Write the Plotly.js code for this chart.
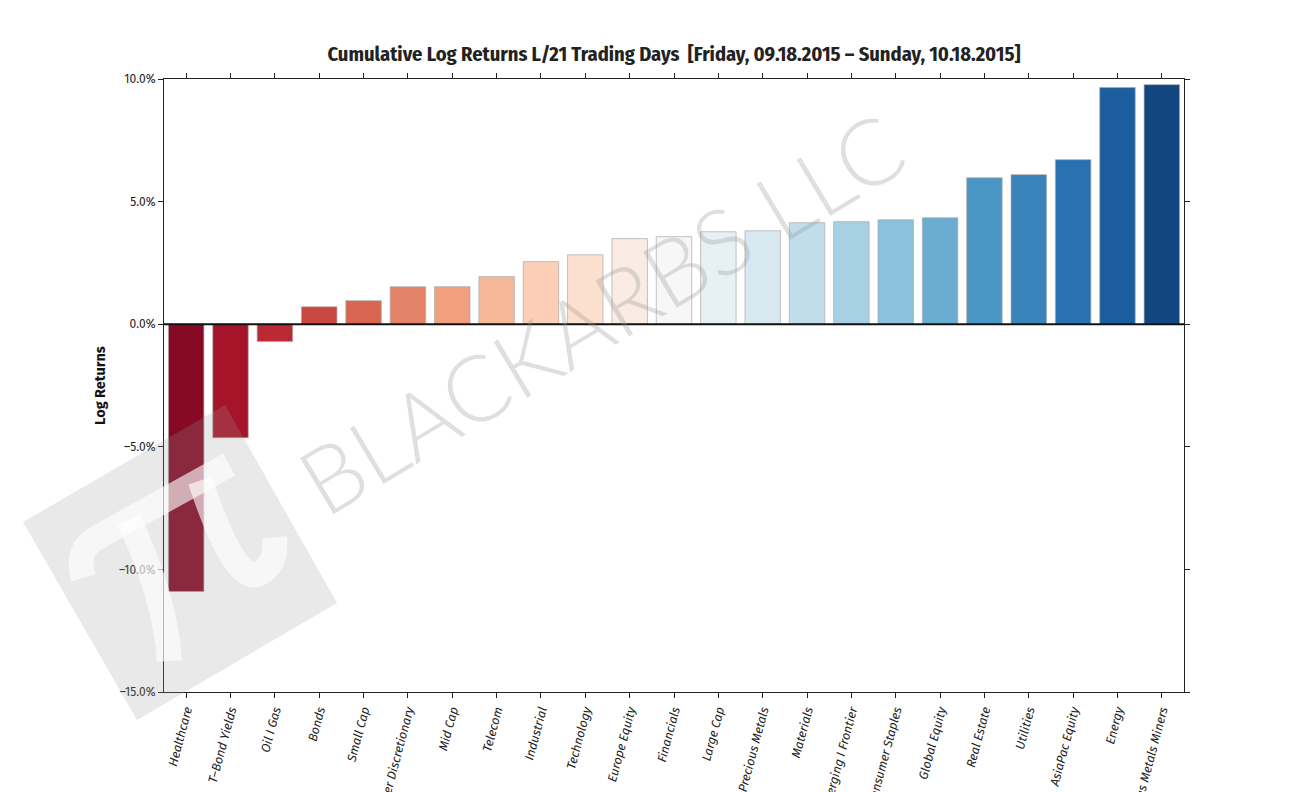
<!DOCTYPE html>
<html>
<head>
<meta charset="utf-8">
<script src="https://cdn.plot.ly/plotly-3.0.1.min.js"></script>
<style>html,body{margin:0;padding:0;background:#fff;}#chart{width:1314px;height:792px;}</style>
</head>
<body>
<div id="chart"></div>
<script>
const categories = ["Healthcare","T\u2013Bond Yields","Oil I Gas","Bonds","Small Cap","Consumer Discretionary","Mid Cap","Telecom","Industrial","Technology","Europe Equity","Financials","Large Cap","Precious Metals","Materials","Emerging I Frontier","Consumer Staples","Global Equity","Real Estate","Utilities","AsiaPac Equity","Energy","Precious Metals Miners"];
const logReturns = [-10.9,-4.63,-0.71,0.71,0.96,1.53,1.53,1.94,2.55,2.83,3.49,3.57,3.77,3.81,4.14,4.18,4.26,4.34,5.97,6.10,6.71,9.65,9.77];
const yTicks = [-15,-10,-5,0,5,10];

// RdBu colormap stops
const rdbu = ["#67001f","#b2182b","#d6604d","#f4a582","#fddbc7","#f7f7f7","#d1e5f0","#92c5de","#4393c3","#2166ac","#053061"];
function hex2rgb(h){return [parseInt(h.slice(1,3),16),parseInt(h.slice(3,5),16),parseInt(h.slice(5,7),16)];}
function cmap(t){
  const s = t*(rdbu.length-1);
  const i = Math.min(Math.floor(s), rdbu.length-2);
  const f = s-i;
  const a = hex2rgb(rdbu[i]), b = hex2rgb(rdbu[i+1]);
  const c = a.map((v,k)=>Math.round(v+(b[k]-v)*f));
  return `rgb(${c[0]},${c[1]},${c[2]})`;
}
const n = categories.length;
const colors = categories.map((_,i)=>cmap((i+1)/(n+1)));

const trace = {
  type:'bar', x:categories, y:logReturns,
  marker:{color:colors, line:{color:'rgba(170,170,170,0.7)', width:1}},
  width:0.8, hoverinfo:'x+y'
};

const tickFont = {family:'"Fira Sans","Noto Sans","Open Sans",sans-serif', size:12, color:'#222'};

// paper coordinates helpers (plot area: x 164..1184, y 79..692)
const px = v => (v-164)/1020;
const py = v => (692-v)/613;

// watermark logo: pi drawn in a local rotated frame
const LC = [156,505], LA = 29*Math.PI/180, LS = 1.1;
function lp(u,v){
  u*=LS; v*=LS;
  const x = LC[0] + u*Math.cos(LA) + v*Math.sin(LA);
  const y = LC[1] - u*Math.sin(LA) + v*Math.cos(LA);
  return px(x)+' '+py(y);
}
const piBar = `M ${lp(-90,26)} Q ${lp(-84,0)} ${lp(-62,0)} L ${lp(76,0)}`;
const piLeft = `M ${lp(-28,0)} Q ${lp(-34,80)} ${lp(-58,130)}`;
const piRight = `M ${lp(46,0)} Q ${lp(28,95)} ${lp(50,100)} Q ${lp(70,102)} ${lp(80,78)}`;
const piLine = {color:'rgba(255,255,255,0.62)', width:25};

const layout = {
  width:1314, height:792,
  margin:{l:164, r:130, t:79, b:100},
  paper_bgcolor:'#fff', plot_bgcolor:'#fff',
  showlegend:false,
  bargap:0.2,
  title:{text:'Cumulative Log Returns L/21 Trading Days  [Friday, 09.18.2015 \u2013 Sunday, 10.18.2015]',
    font:{family:'"Fira Sans Condensed","Liberation Sans Narrow","Roboto Condensed","Noto Sans",sans-serif', size:20.4, color:'#222', weight:'bold'},
    x:0.5, xref:'paper', y:1, yref:'paper', yanchor:'bottom', pad:{b:18}},
  xaxis:{type:'category', tickangle:-75, tickfont:Object.assign({style:'italic'},tickFont,{size:12.5}),
    showline:true, linecolor:'#222', linewidth:1, mirror:'ticks', ticks:'outside', ticklen:5, tickcolor:'#222',
    showgrid:false, zeroline:false, automargin:false, range:[-0.5, n-0.5], fixedrange:true},
  yaxis:{range:[-15,10], tickvals:yTicks, ticktext:yTicks.map(v=>(v<0?'\u2013':'')+Math.abs(v).toFixed(1)+'%'),
    tickfont:tickFont, showline:true, linecolor:'#222', linewidth:1, mirror:'ticks', ticks:'outside', ticklen:5, tickcolor:'#222',
    showgrid:false, zeroline:false, automargin:false,
    title:{text:'Log Returns', font:{family:'"Fira Sans","Noto Sans",sans-serif', size:14.5, color:'#111', weight:'bold'}, standoff:9}},
  shapes:[
    {type:'line', xref:'paper', yref:'y', x0:0, x1:1, y0:0, y1:0, layer:'above', line:{color:'#111', width:2}},
    {type:'path', xref:'paper', yref:'paper', layer:'above',
     path:`M ${px(23)} ${py(522)} L ${px(225)} ${py(405)} L ${px(337)} ${py(603)} L ${px(137)} ${py(720)} Z`,
     fillcolor:'rgba(154,154,154,0.22)', line:{width:0}},
    {type:'path', xref:'paper', yref:'paper', layer:'above', path:piBar, line:piLine},
    {type:'path', xref:'paper', yref:'paper', layer:'above', path:piLeft, line:piLine},
    {type:'path', xref:'paper', yref:'paper', layer:'above', path:piRight, line:piLine}
  ],
  annotations:[
    {text:'BLACKARBS LLC', xref:'paper', yref:'paper', x:px(600), y:py(312), showarrow:false, textangle:-31,
     font:{family:'Lato,"Open Sans",sans-serif', size:92, color:'rgba(150,150,150,0.3)', weight:300}}
  ]
};

Plotly.newPlot('chart',[trace],layout,{displayModeBar:false, staticPlot:true});
</script>
</body>
</html>
